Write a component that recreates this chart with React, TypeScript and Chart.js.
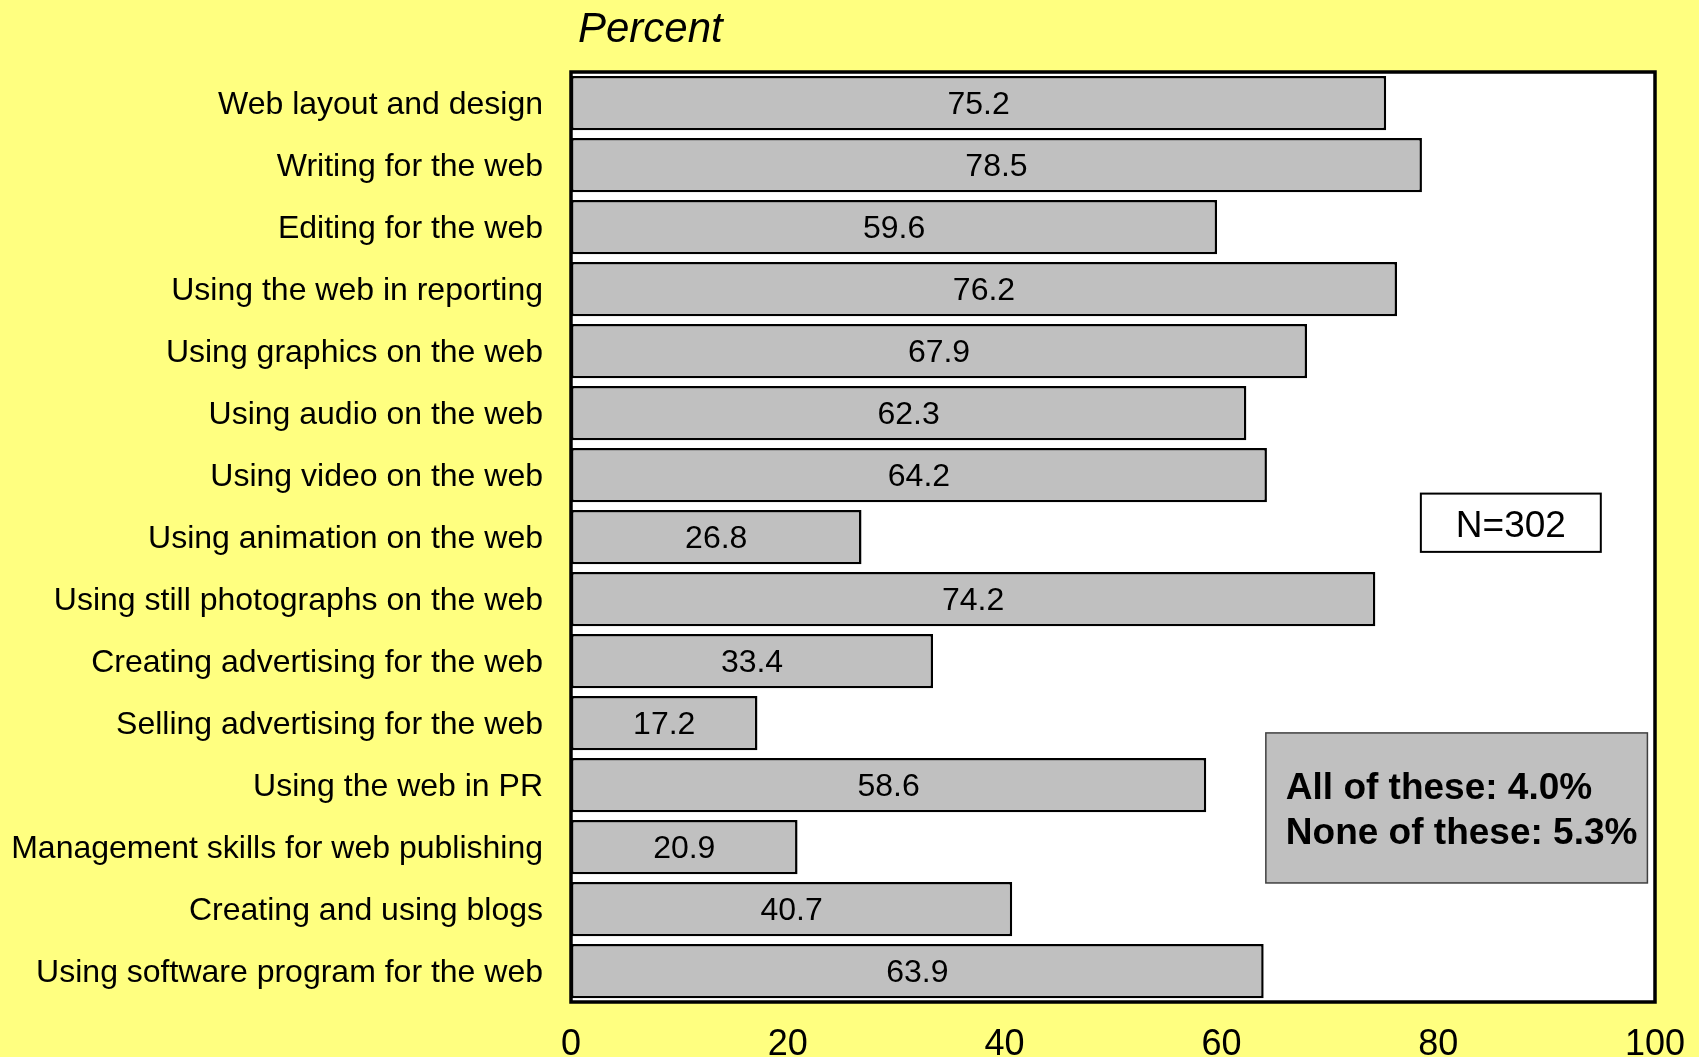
import React, { useEffect, useRef } from "react";
import { Chart, registerables } from "chart.js";

Chart.register(...registerables);

const categories: string[] = [
  "Web layout and design",
  "Writing for the web",
  "Editing for the web",
  "Using the web in reporting",
  "Using graphics on the web",
  "Using audio on the web",
  "Using video on the web",
  "Using animation on the web",
  "Using still photographs on the web",
  "Creating advertising for the web",
  "Selling advertising for the web",
  "Using the web in PR",
  "Management skills for web publishing",
  "Creating and using blogs",
  "Using software program for the web",
];

const percentValues: number[] = [
  75.2, 78.5, 59.6, 76.2, 67.9, 62.3, 64.2, 26.8, 74.2, 33.4, 17.2, 58.6, 20.9, 40.7, 63.9,
];

const xTicks: number[] = [0, 20, 40, 60, 80, 100];

const axisTitle = "Percent";
const sampleNote = "N=302";
const summaryLines: string[] = ["All of these: 4.0%", "None of these: 5.3%"];

const FONT = "'Liberation Sans', Arial, Helvetica, sans-serif";
const BG = "#FFFF80";

const overlayPlugin = {
  id: "overlay",
  beforeDatasetsDraw(chart: any) {
    const { ctx, chartArea } = chart;
    ctx.save();
    ctx.fillStyle = "#FFFFFF";
    ctx.fillRect(chartArea.left, chartArea.top, chartArea.right - chartArea.left, chartArea.bottom - chartArea.top);
    ctx.restore();
  },
  afterDatasetsDraw(chart: any) {
    const { ctx, chartArea, scales } = chart;
    const xs = scales.x;
    const ys = scales.y;
    ctx.save();

    // value labels centered inside bars
    const meta = chart.getDatasetMeta(0);
    ctx.fillStyle = "#000";
    ctx.font = `32px ${FONT}`;
    ctx.textAlign = "center";
    ctx.textBaseline = "middle";
    meta.data.forEach((bar: any, i: number) => {
      const v = percentValues[i];
      const x0 = xs.getPixelForValue(0);
      const x1 = xs.getPixelForValue(v);
      ctx.fillText(v.toFixed(1), (x0 + x1) / 2, bar.y + 2);
    });

    // plot frame
    ctx.strokeStyle = "#000";
    ctx.lineWidth = 3.5;
    ctx.strokeRect(chartArea.left, chartArea.top, chartArea.right - chartArea.left, chartArea.bottom - chartArea.top);

    // N box
    const nL = xs.getPixelForValue(78.4);
    const nR = xs.getPixelForValue(95.0);
    const nT = ys.getPixelForValue(6.3);
    const nB = ys.getPixelForValue(7.24);
    ctx.fillStyle = "#FFFFFF";
    ctx.fillRect(nL, nT, nR - nL, nB - nT);
    ctx.lineWidth = 2;
    ctx.strokeStyle = "#000";
    ctx.strokeRect(nL, nT, nR - nL, nB - nT);
    ctx.fillStyle = "#000";
    ctx.font = `37px ${FONT}`;
    ctx.textAlign = "center";
    ctx.textBaseline = "alphabetic";
    ctx.fillText(sampleNote, (nL + nR) / 2, nT + 43);

    // summary box
    const sL = xs.getPixelForValue(64.1);
    const sR = xs.getPixelForValue(99.3);
    const sT = ys.getPixelForValue(10.16);
    const sB = ys.getPixelForValue(12.58);
    ctx.fillStyle = "#C0C0C0";
    ctx.fillRect(sL, sT, sR - sL, sB - sT);
    ctx.lineWidth = 1.5;
    ctx.strokeStyle = "#404040";
    ctx.strokeRect(sL, sT, sR - sL, sB - sT);
    ctx.fillStyle = "#000";
    ctx.font = `bold 37px ${FONT}`;
    ctx.textAlign = "left";
    summaryLines.forEach((line, i) => {
      ctx.fillText(line, sL + 20, sT + 66 + i * 45);
    });

    // axis title
    ctx.font = `italic 42px ${FONT}`;
    ctx.textAlign = "left";
    ctx.fillText(axisTitle, chartArea.left + 7, 42);

    ctx.restore();
  },
};

export default function App() {
  const canvasRef = useRef<HTMLCanvasElement | null>(null);

  useEffect(() => {
    if (!canvasRef.current) return;
    const chart = new Chart(canvasRef.current, {
      type: "bar",
      data: {
        labels: categories,
        datasets: [
          {
            data: percentValues,
            backgroundColor: "#C0C0C0",
            borderColor: "#000000",
            borderWidth: 2.5,
            borderSkipped: false,
            categoryPercentage: 1,
            barPercentage: 0.875,
          },
        ],
      },
      options: {
        indexAxis: "y",
        responsive: false,
        animation: false,
        events: [],
        layout: { padding: { top: 72, right: 44, left: 0, bottom: 0 } },
        plugins: {
          legend: { display: false },
          tooltip: { enabled: false },
          title: { display: false },
        },
        scales: {
          x: {
            min: 0,
            max: 100,
            afterBuildTicks: (scale: any) => {
              scale.ticks = xTicks.map((v) => ({ value: v }));
            },
            afterFit: (scale: any) => {
              scale.height = 55;
              scale.paddingLeft = 0;
              scale.paddingRight = 0;
            },
            grid: { display: false, drawTicks: false },
            border: { display: false },
            ticks: {
              color: "#000",
              font: { family: FONT, size: 36 },
              padding: 21,
              maxRotation: 0,
              autoSkip: false,
            },
          },
          y: {
            afterFit: (scale: any) => {
              scale.width = 571;
              scale.paddingTop = 0;
              scale.paddingBottom = 0;
            },
            grid: { display: false, drawTicks: false },
            border: { display: false },
            ticks: {
              color: "#000",
              font: { family: FONT, size: 32 },
              padding: 28,
              labelOffset: 2,
              autoSkip: false,
            },
          },
        },
      },
      plugins: [overlayPlugin],
    });
    return () => chart.destroy();
  }, []);

  return (
    <div
      style={{
        position: "fixed",
        left: 0,
        top: 0,
        width: 1699,
        height: 1057,
        background: BG,
        overflow: "hidden",
      }}
    >
      <canvas ref={canvasRef} width={1699} height={1057} style={{ display: "block" }} />
    </div>
  );
}
